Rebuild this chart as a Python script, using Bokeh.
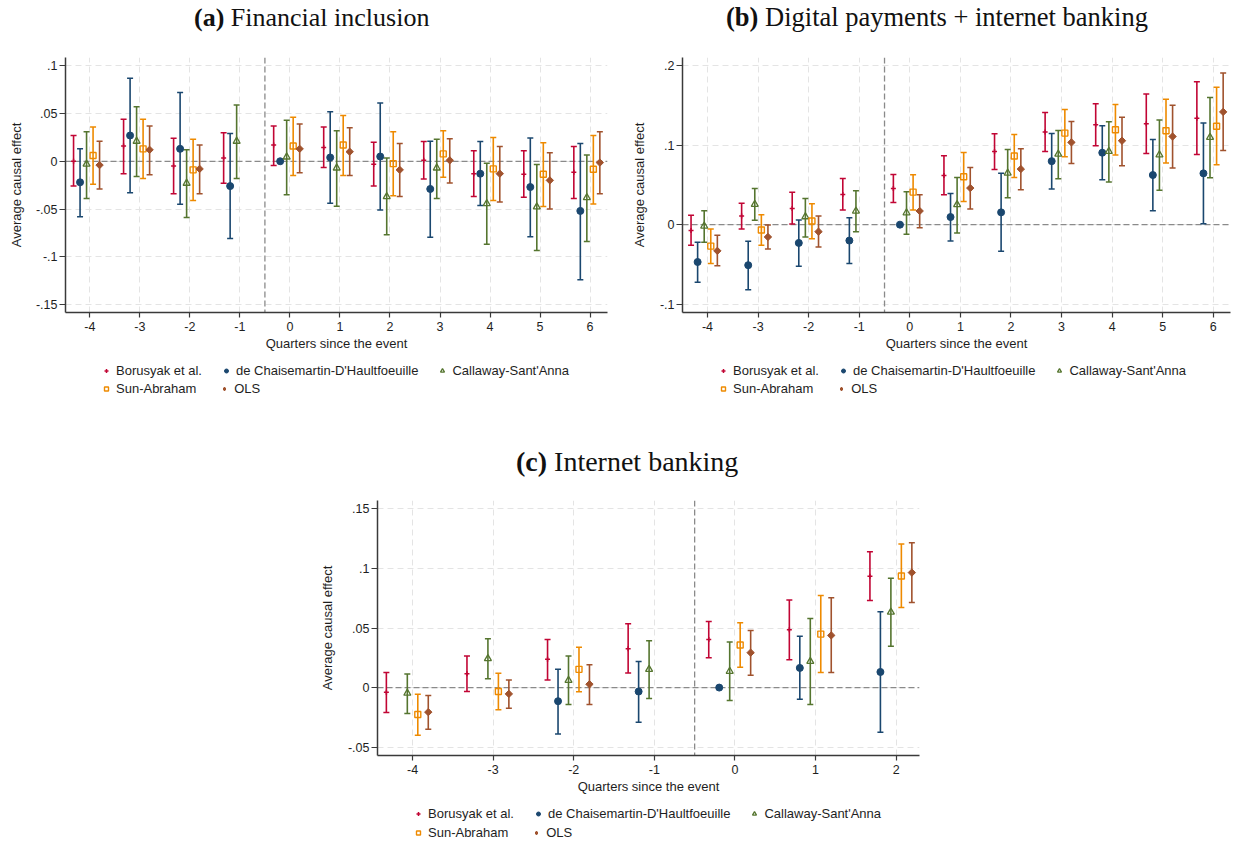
import numpy as np
from bokeh.plotting import figure
from bokeh.models import (ColumnDataSource, Whisker, TeeHead, FixedTicker, Span, Div,
                          Legend, LegendItem, Spacer, CustomJSTickFormatter, Range1d)
from bokeh.layouts import row, column
from bokeh.embed import file_html
from bokeh.resources import INLINE

# ---------------- data ----------------
estimators = ["Borusyak et al.", "de Chaisemartin-D'Haultfoeuille", "Callaway-Sant'Anna",
              "Sun-Abraham", "OLS"]
offsets = [-0.325, -0.195, -0.065, 0.065, 0.195]
colors = ["#c10534", "#1a476f", "#55752f", "#ee8a00", "#a0522d"]

x_ticks_ab = [-4, -3, -2, -1, 0, 1, 2, 3, 4, 5, 6]
x_ticks_c = [-4, -3, -2, -1, 0, 1, 2]
y_ticks_a = [-0.15, -0.1, -0.05, 0.0, 0.05, 0.1]
y_ticks_b = [-0.1, 0.0, 0.1, 0.2]
y_ticks_c = [-0.05, 0.0, 0.05, 0.1, 0.15]

N = None

# (a) Financial inclusion
a_events = [-4, -3, -2, -1, 0, 1, 2, 3, 4, 5, 6]
a_bor = [0.0, 0.016, -0.005, 0.0035, 0.017, 0.0143, -0.003, 0.001, -0.013, -0.0136, -0.0115]
a_bor_lo = [-0.026, -0.013, -0.034, -0.023, -0.0045, -0.0066, -0.026, -0.0185, -0.037, -0.0377, -0.039]
a_bor_hi = [0.027, 0.044, 0.024, 0.030, 0.037, 0.036, 0.020, 0.0206, 0.011, 0.011, 0.0154]
a_dch = [-0.022, 0.027, 0.013, -0.026, 0.0, 0.004, 0.005, -0.029, -0.013, -0.027, -0.052]
a_dch_lo = [-0.058, -0.033, -0.045, -0.081, N, -0.044, -0.051, -0.0796, -0.0464, -0.079, -0.124]
a_dch_hi = [0.013, 0.087, 0.072, 0.029, N, 0.052, 0.061, 0.021, 0.0206, 0.0244, 0.0185]
a_cs = [-0.003, 0.021, -0.023, 0.021, 0.0045, -0.007, -0.037, -0.007, -0.0443, -0.0478, -0.038]
a_cs_lo = [-0.039, -0.016, -0.059, -0.018, -0.035, -0.047, -0.077, -0.039, -0.087, -0.0935, -0.084]
a_cs_hi = [0.031, 0.057, 0.012, 0.059, 0.043, 0.032, 0.0035, 0.023, -0.002, -0.0035, 0.0066]
a_sa = [0.006, 0.013, -0.009, N, 0.016, 0.017, -0.0025, 0.0077, -0.008, -0.0136, -0.0084]
a_sa_lo = [-0.024, -0.018, -0.041, N, -0.015, -0.015, -0.036, -0.0167, -0.041, -0.0475, -0.0447]
a_sa_hi = [0.036, 0.044, 0.023, N, 0.046, 0.048, 0.031, 0.032, 0.0248, 0.0195, 0.0269]
a_ols = [-0.004, 0.012, -0.008, N, 0.013, 0.010, -0.009, 0.001, -0.013, -0.020, -0.0014]
a_ols_lo = [-0.029, -0.014, -0.034, N, -0.012, -0.015, -0.037, -0.0227, -0.0426, -0.050, -0.034]
a_ols_hi = [0.021, 0.037, 0.017, N, 0.039, 0.035, 0.0185, 0.0237, 0.0154, 0.009, 0.031]

# (b) Digital payments + internet banking
b_events = [-4, -3, -2, -1, 0, 1, 2, 3, 4, 5, 6]
b_bor = [-0.0075, 0.011, 0.0205, 0.038, 0.0457, 0.062, 0.0922, 0.1166, 0.1258, 0.127, 0.134]
b_bor_lo = [-0.026, -0.0055, 0.0008, 0.0184, 0.028, 0.0377, 0.0696, 0.0922, 0.0994, 0.0897, 0.0885]
b_bor_hi = [0.012, 0.027, 0.0407, 0.058, 0.0633, 0.0868, 0.1145, 0.1413, 0.1522, 0.1644, 0.180]
b_dch = [-0.047, -0.051, -0.023, -0.020, 0.0, 0.0096, 0.0155, 0.080, 0.0906, 0.0625, 0.0646]
b_dch_lo = [-0.0725, -0.082, -0.0524, -0.049, N, -0.0205, -0.0335, 0.0449, 0.0566, 0.0176, 0.0013]
b_dch_hi = [-0.022, -0.021, 0.0059, 0.0088, N, 0.0394, 0.0646, 0.1149, 0.1245, 0.1073, 0.1279]
b_cs = [-0.0017, 0.0256, 0.010, 0.0172, 0.015, 0.0252, 0.065, 0.0889, 0.0922, 0.088, 0.110]
b_cs_lo = [-0.022, 0.0055, -0.0155, -0.0088, -0.012, -0.0105, 0.034, 0.0579, 0.0537, 0.0432, 0.059]
b_cs_hi = [0.0176, 0.0457, 0.033, 0.0428, 0.0415, 0.0595, 0.0948, 0.1187, 0.1296, 0.1317, 0.160]
b_sa = [-0.027, -0.0067, 0.0046, N, 0.041, 0.0604, 0.0864, 0.1153, 0.1195, 0.1182, 0.124]
b_sa_lo = [-0.049, -0.026, -0.0176, N, 0.0184, 0.0293, 0.0595, 0.0855, 0.0876, 0.0776, 0.0755]
b_sa_hi = [-0.0055, 0.0126, 0.0264, N, 0.063, 0.091, 0.1136, 0.145, 0.1514, 0.158, 0.173]
b_ols = [-0.033, -0.0155, -0.0088, N, 0.0172, 0.0461, 0.070, 0.1036, 0.1057, 0.111, 0.142]
b_ols_lo = [-0.0516, -0.0306, -0.028, N, -0.0038, 0.0197, 0.044, 0.077, 0.0742, 0.0713, 0.0935]
b_ols_hi = [-0.0134, -0.0004, 0.011, N, 0.0377, 0.0721, 0.0956, 0.13, 0.1354, 0.1505, 0.191]

# (c) Internet banking
c_events = [-4, -3, -2, -1, 0, 1, 2]
c_bor = [-0.0039, 0.0117, 0.0237, 0.0326, 0.0404, 0.0485, 0.0934]
c_bor_lo = [-0.021, -0.0033, 0.0064, 0.0123, 0.0251, 0.0234, 0.0731]
c_bor_hi = [0.0126, 0.0265, 0.0404, 0.0536, 0.0555, 0.0736, 0.114]
c_dch = [N, N, -0.0114, -0.0033, 0.0, 0.0165, 0.0131]
c_dch_lo = [N, N, -0.039, -0.029, N, -0.0098, -0.0374]
c_dch_hi = [N, N, 0.0153, 0.0218, N, 0.043, 0.0636]
c_cs = [-0.0047, 0.0243, 0.0061, 0.0153, 0.0137, 0.022, 0.0633]
c_cs_lo = [-0.0218, 0.0075, -0.0142, -0.0092, -0.0109, -0.0142, 0.0346]
c_cs_hi = [0.0114, 0.041, 0.0265, 0.0393, 0.0382, 0.058, 0.0918]
c_sa = [-0.0226, -0.0033, 0.0153, N, 0.0357, 0.0449, 0.0937]
c_sa_lo = [-0.040, -0.0187, -0.0036, N, 0.017, 0.0126, 0.0672]
c_sa_hi = [-0.0056, 0.012, 0.0338, N, 0.0544, 0.0773, 0.1205]
c_ols = [-0.0206, -0.0053, 0.0028, N, 0.0293, 0.0438, 0.0965]
c_ols_lo = [-0.0349, -0.0173, -0.0142, N, 0.0103, 0.0126, 0.0714]
c_ols_hi = [-0.0067, 0.0064, 0.0192, N, 0.048, 0.0753, 0.1216]

# ---------------- styling helpers ----------------
SANS = "Liberation Sans"
FRAME_H = 255
TOP = 21
BOTTOM = 44
DIV_H = 36
NAN = float("nan")

yfmt = CustomJSTickFormatter(code="""
const v = Math.round(tick * 1000) / 1000;
let s = v.toString();
if (s.startsWith("0.")) { s = s.slice(1); }
else if (s.startsWith("-0.")) { s = "-" + s.slice(2); }
return s;
""")
xfmt = CustomJSTickFormatter(code="return Math.round(tick).toString();")


def add_marker(p, k, xs, ys, for_legend=False):
    c = colors[k]
    if k == 0:
        return p.scatter(xs, ys, marker="cross", size=5, line_color=c, line_width=1.5)
    if k == 1:
        return p.scatter(xs, ys, marker="circle", size=7, fill_color=c, line_color=c)
    if k == 2:
        return p.scatter(xs, ys, marker="triangle", size=7, fill_alpha=0, line_color=c, line_width=1.3)
    if k == 3:
        return p.scatter(xs, ys, marker="square", size=6, fill_alpha=0, line_color=c, line_width=1.4)
    if for_legend:
        return p.scatter(xs, ys, marker="diamond", size=8, fill_color=c, line_color=c)
    return p.scatter(xs, ys, marker="square", angle=np.pi / 4, size=5.2, fill_color=c, line_color=c)


def title_div(tag, text, width, pad_left, pad_top, size):
    html = ('<div style="padding-left:%dpx; padding-top:%dpx; white-space:nowrap; '
            'font-family:\'Liberation Serif\'; font-size:%spx; line-height:25px; color:#111111;">'
            '<b>%s</b> %s</div>' % (pad_left, pad_top, size, tag, text))
    return Div(text=html, width=width, height=DIV_H, margin=0)


def make_panel(events, series, xr, yr, yt, xt, width, mb_left, mb_right, ylab_standoff):
    p = figure(width=width, height=TOP + FRAME_H + BOTTOM, x_range=Range1d(*xr),
               y_range=Range1d(*yr), output_backend="svg", toolbar_location=None,
               min_border_left=mb_left, min_border_right=mb_right, min_border_top=TOP,
               min_border_bottom=BOTTOM)
    p.outline_line_color = None
    p.background_fill_color = "white"

    for ax in (p.xaxis[0], p.yaxis[0]):
        ax.axis_line_color = "#3a3a3a"
        ax.axis_line_width = 1.5
        ax.major_tick_line_color = "#3a3a3a"
        ax.major_tick_line_width = 1.2
        ax.major_tick_in = 0
        ax.minor_tick_line_color = None
        ax.major_label_text_font = SANS
        ax.major_label_text_font_size = "12.5px"
        ax.major_label_text_color = "#1e1e1e"
        ax.axis_label_text_font = SANS
        ax.axis_label_text_font_size = "13px"
        ax.axis_label_text_font_style = "normal"
        ax.axis_label_text_color = "#1e1e1e"

    p.xaxis.ticker = FixedTicker(ticks=xt)
    p.yaxis.ticker = FixedTicker(ticks=yt)
    p.xaxis.formatter = xfmt
    p.yaxis.formatter = yfmt
    p.xaxis.major_tick_out = 5
    p.yaxis.major_tick_out = 6
    p.xaxis.major_label_standoff = 4
    p.yaxis.major_label_standoff = 2
    p.xaxis.axis_label = "Quarters since the event"
    p.yaxis.axis_label = "Average causal effect"
    p.xaxis.axis_label_standoff = 2
    p.yaxis.axis_label_standoff = ylab_standoff

    p.xgrid.ticker = FixedTicker(ticks=xt)
    p.ygrid.ticker = FixedTicker(ticks=yt)
    for g in (p.xgrid[0], p.ygrid[0]):
        g.grid_line_color = "#e4e4e4"
        g.grid_line_dash = "6 4"
        g.grid_line_width = 1

    p.add_layout(Span(location=0, dimension="width", line_color="#8a8a8a",
                      line_dash="6 3", line_width=1.3, level="underlay"))
    p.add_layout(Span(location=-0.5, dimension="height", line_color="#8a8a8a",
                      line_dash="6 3", line_width=1.3, level="underlay"))

    for k, (est, lo, hi) in enumerate(series):
        xs = [e + offsets[k] for e in events]
        bx = [x for x, l in zip(xs, lo) if l is not None]
        bl = [l for l in lo if l is not None]
        bh = [h for h in hi if h is not None]
        src = ColumnDataSource(dict(x=bx, lo=bl, hi=bh))
        c = colors[k]
        w = Whisker(source=src, base="x", lower="lo", upper="hi", dimension="height",
                    line_color=c, line_width=1.6, level="underlay",
                    upper_head=TeeHead(size=6, line_color=c, line_width=1.5),
                    lower_head=TeeHead(size=6, line_color=c, line_width=1.5))
        p.add_layout(w)
        px = [x for x, y in zip(xs, est) if y is not None]
        py = [y for y in est if y is not None]
        add_marker(p, k, px, py)
    return p


def legend_fig(width, height, vx, vy1, vy2):
    lf = figure(width=width, height=height, x_range=Range1d(0, 1), y_range=Range1d(0, 1),
                output_backend="svg", toolbar_location=None, min_border=0,
                min_border_left=0, min_border_right=0, min_border_top=0, min_border_bottom=0,
                x_axis_location=None, y_axis_location=None)
    lf.grid.visible = False
    lf.outline_line_color = None
    # legend-only renderers (a single undefined point each, nothing is drawn in the frame)
    rends = [add_marker(lf, k, [NAN], [NAN], for_legend=True) for k in range(5)]
    for ks, sp, vy in (([0, 1, 2], 19, vy1), ([3, 4], 23, vy2)):
        items = [LegendItem(label=estimators[k], renderers=[rends[k]]) for k in ks]
        leg = Legend(items=items, location=(vx, vy), orientation="horizontal",
                     glyph_width=10, glyph_height=19, label_height=19,
                     label_standoff=5, padding=0, margin=0, spacing=sp,
                     border_line_alpha=0, background_fill_alpha=0,
                     label_text_font=SANS, label_text_font_size="13px",
                     label_text_color="#1e1e1e")
        lf.add_layout(leg)
    return lf


ser_a = [(a_bor, a_bor_lo, a_bor_hi), (a_dch, a_dch_lo, a_dch_hi), (a_cs, a_cs_lo, a_cs_hi),
         (a_sa, a_sa_lo, a_sa_hi), (a_ols, a_ols_lo, a_ols_hi)]
ser_b = [(b_bor, b_bor_lo, b_bor_hi), (b_dch, b_dch_lo, b_dch_hi), (b_cs, b_cs_lo, b_cs_hi),
         (b_sa, b_sa_lo, b_sa_hi), (b_ols, b_ols_lo, b_ols_hi)]
ser_c = [(c_bor, c_bor_lo, c_bor_hi), (c_dch, c_dch_lo, c_dch_hi), (c_cs, c_cs_lo, c_cs_hi),
         (c_sa, c_sa_lo, c_sa_hi), (c_ols, c_ols_lo, c_ols_hi)]

pa = make_panel(a_events, ser_a, (-4.486, 6.348), (-0.1584, 0.1087), y_ticks_a, x_ticks_ab,
                620, 65, 13, 9)
pb = make_panel(b_events, ser_b, (-4.494, 6.34), (-0.1106, 0.2105), y_ticks_b, x_ticks_ab,
                613, 62, 3, 10)
pc = make_panel(c_events, ser_c, (-4.435, 2.29), (-0.057, 0.157), y_ticks_c, x_ticks_c,
                620, 65, 13, 10)

la = legend_fig(620, 87, 36, 63, 45)
lb = legend_fig(613, 87, 36, 63, 45)
lc = legend_fig(620, 43, 36, 19, 0)

da = title_div("(a)", "Financial inclusion", 620, 194, 5, 26)
db = title_div("(b)", "Digital payments + internet banking", 613, 106, 5, 26.5)
dc = title_div("(c)", "Internet banking", 620, 204, 6, 28)

layout = column(row(column(da, pa, la), column(db, pb, lb)),
                row(Spacer(width=312, height=399, margin=0), column(dc, pc, lc)))

open("out.html", "w").write(file_html(layout, INLINE))
